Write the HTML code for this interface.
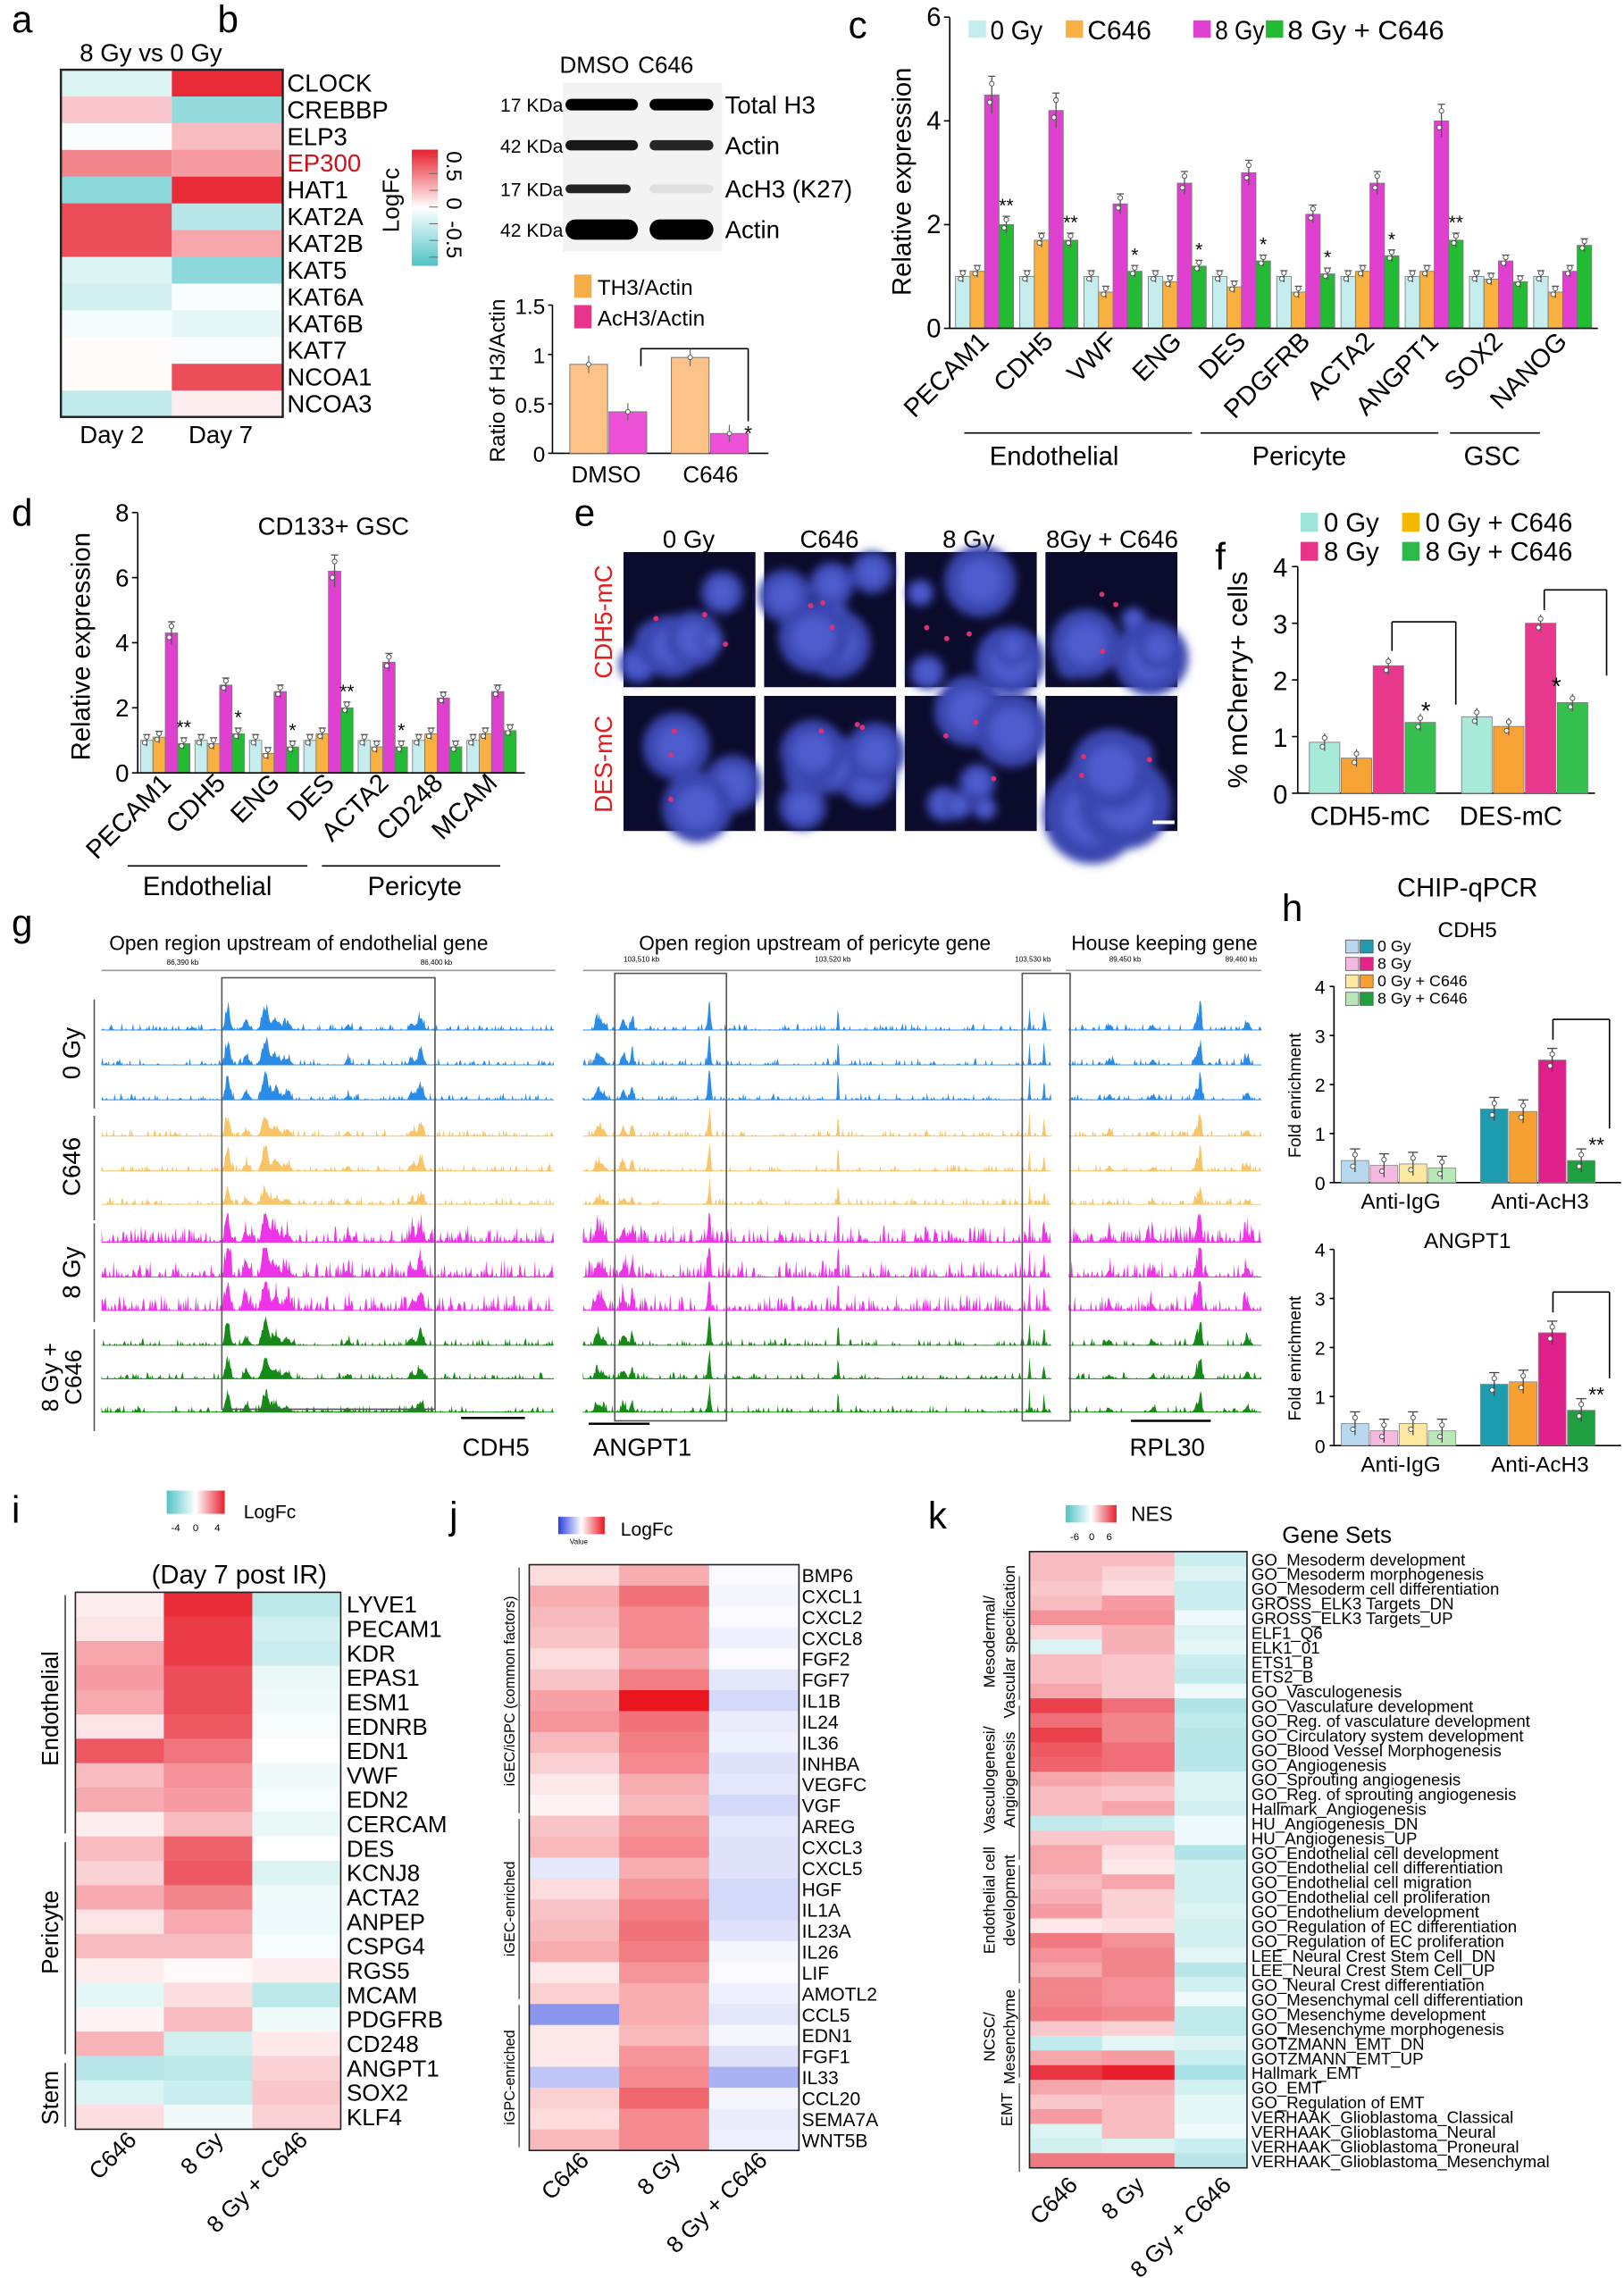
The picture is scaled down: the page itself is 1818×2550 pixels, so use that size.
<!DOCTYPE html>
<html><head><meta charset="utf-8">
<style>
html,body{margin:0;padding:0;background:#fff;}
svg{display:block;font-family:"Liberation Sans Narrow","Liberation Sans",Arial,sans-serif;}
</style></head>
<body>
<svg id="s" width="1818" height="2550" viewBox="0 0 1120 1568" preserveAspectRatio="none" xmlns="http://www.w3.org/2000/svg">
<defs><filter id="bl" x="-50%" y="-50%" width="200%" height="200%"><feGaussianBlur stdDeviation="3"/></filter>
<linearGradient id="gTR" x1="0" y1="1" x2="0" y2="0"><stop offset="0" stop-color="#4fc3c8"/><stop offset=".5" stop-color="#fff"/><stop offset="1" stop-color="#e8202e"/></linearGradient>
<linearGradient id="hTR" x1="0" y1="0" x2="1" y2="0"><stop offset="0" stop-color="#4fc3c8"/><stop offset=".5" stop-color="#fff"/><stop offset="1" stop-color="#e8202e"/></linearGradient>
<linearGradient id="hBR" x1="0" y1="0" x2="1" y2="0"><stop offset="0" stop-color="#2a3ee0"/><stop offset=".5" stop-color="#fff"/><stop offset="1" stop-color="#e8141e"/></linearGradient>
</defs>
</svg>
<script>
(function(){
let o='';
function T(x,y,s,fs,p){p=p||{};o+=`<text x="${x}" y="${y}" font-size="${fs}"${p.a?` text-anchor="${p.a}"`:''}${p.l?` textLength="${p.l}" lengthAdjust="spacingAndGlyphs"`:''}${p.r!=null?` transform="rotate(${p.r} ${x} ${y})"`:''} fill="${p.c||'#000'}"${p.w?' font-weight="bold"':''}>${s}</text>`;}
function R(x,y,w,h,f,st,sw,rx){o+=`<rect x="${x}" y="${y}" width="${w}" height="${h}"${rx?` rx="${rx}"`:''} fill="${f}"${st?` stroke="${st}" stroke-width="${sw||1}"`:''}/>`;}
function L(x1,y1,x2,y2,c,w){o+=`<line x1="${x1}" y1="${y1}" x2="${x2}" y2="${y2}" stroke="${c||'#000'}" stroke-width="${w||1}"/>`;}
function C(x,y,r,f,st){o+=`<circle cx="${x}" cy="${y}" r="${r}" fill="${f}"${st?` stroke="${st}" stroke-width=".6"`:''}/>`;}
function mix(a,b,t){const pa=[parseInt(a.substr(1,2),16),parseInt(a.substr(3,2),16),parseInt(a.substr(5,2),16)],pb=[parseInt(b.substr(1,2),16),parseInt(b.substr(3,2),16),parseInt(b.substr(5,2),16)];return 'rgb('+pa.map((v,i)=>Math.round(v+(pb[i]-v)*t)).join(',')+')';}
function TR(v){v=Math.max(-1,Math.min(1,v));return v<0?mix('#ffffff','#4fc3c8',-v):mix('#ffffff','#e8202e',v);}
function BR(v){v=Math.max(-1,Math.min(1,v));return v<0?mix('#ffffff','#2a3ee0',-v):mix('#ffffff','#e8141e',v);}
let seed=7;function rnd(){seed=(seed*16807)%2147483647;return seed/2147483647;}

// ========== a ==========
T(8,22,'a',26);
T(55,42,'8 Gy vs 0 Gy',17);
const aG=['CLOCK','CREBBP','ELP3','EP300','HAT1','KAT2A','KAT2B','KAT5','KAT6A','KAT6B','KAT7','NCOA1','NCOA3'];
const aV=[[-.2,.95],[.25,-.6],[-.03,.3],[.55,.45],[-.65,.95],[.8,-.4],[.8,.4],[-.2,-.65],[-.25,-.03],[-.06,-.15],[.02,-.03],[.02,.8],[-.35,.08]];
aV.forEach((r,i)=>{R(42,48+i*18.4,76.5,18.6,TR(r[0]));R(118.5,48+i*18.4,76.5,18.6,TR(r[1]));T(198,48+i*18.4+15,aG[i],17,{c:i==3?'#d0101c':'#000'});});
R(42,48,153,239,'none','#222',1.5);
T(55,305,'Day 2',17);T(130,305,'Day 7',17);
R(284,103,18,80,'url(#gTR)');
[0,1,2,3,4,5,6].forEach(i=>L(296,108+i*11.5,302,108+i*11.5,'#666',.6));
T(308,104,'0.5',15,{r:90});T(308,136,'0',15,{r:90});T(308,152,'-0.5',15,{r:90});
T(275,160,'LogFc',16,{r:-90});

// ========== b ==========
T(150,22,'b',26);
T(386,50,'DMSO',16);T(440,50,'C646',16);
[[72,1,1,'Total H3','17 KDa',4],[100,.9,.85,'Actin','42 KDa',3.5],[130,.85,.08,'AcH3 (K27)','17 KDa',3],[158,1,1,'Actin','42 KDa',7]].forEach((r,i)=>{
 R(388,r[0]-15,110,30,'#f3f3f3');
 R(390,r[0]-r[5],i==2?45:50,2*r[5],'#000',null,null,r[5]);o=o.replace(/fill="#000"\/>$/,`fill="#000" opacity="${r[1]}"/>`);
 R(448,r[0]-r[5],44,2*r[5],'#000',null,null,r[5]);o=o.replace(/fill="#000"\/>$/,`fill="#000" opacity="${r[2]}"/>`);
 T(500,r[0]+6,r[3],17);T(345,r[0]+5,r[4],13);
});
R(396,189,12,16,'#f8ae48');T(412,203,'TH3/Actin',15);
R(396,210,12,16,'#e8348a');T(412,224,'AcH3/Actin',15);
(function(){const x0=381,z=312,pp=68;L(x0,210,x0,z);L(x0,z,530,z);
[[0,'0'],[.5,'0.5'],[1,'1'],[1.5,'1.5']].forEach(t=>{L(x0-3,z-t[0]*pp,x0,z-t[0]*pp);T(x0-5,z-t[0]*pp+6,t[1],15,{a:'end'});});
T(348,262,'Ratio of H3/Actin',15,{r:-90,a:'middle'});
[[393,.9,'#fdc288'],[420,.42,'#ee50d8'],[463,.97,'#fdc288'],[490,.2,'#ee50d8']].forEach(b=>{R(b[0],z-b[1]*pp,26,b[1]*pp,b[2],'#777',.6);L(b[0]+13,z-b[1]*pp-6,b[0]+13,z-b[1]*pp+6,'#666',.7);C(b[0]+13,z-b[1]*pp,1.5,'#fff','#555');});
L(442,240,442,252);L(442,240,516,240);L(516,240,516,290);T(516,303,'*',14,{a:'middle'});
T(418,332,'DMSO',16,{a:'middle'});T(490,332,'C646',16,{a:'middle'});})();

function bars(x0,z,pp,yTop,ticks,gx0,gs,bw,vals,cols,stars,tfs){
 L(x0,yTop,x0,z);
 ticks.forEach(t=>{L(x0-4,z-t*pp,x0,z-t*pp);T(x0-6,z-t*pp+6,t,tfs||17,{a:'end'});});
 vals.forEach((g,gi)=>g.forEach((v,i)=>{const x=gx0+gi*gs+i*bw,h=v*pp,e=Math.max(4,v*pp*0.08);
  R(x,z-h,bw,h,cols[i],'#777',.5);L(x+bw/2,z-h-e,x+bw/2,z-h+e,'#555',.8);L(x+bw/2-2.5,z-h-e,x+bw/2+2.5,z-h-e,'#555',.8);
  C(x+bw/2,z-h-e*0.6,1.6,'#fff','#555');C(x+bw/2-1.5,z-h+e*0.4,1.6,'#fff','#555');
  if(stars&&stars[gi]&&i==3)T(x+bw/2,z-h-e-3,stars[gi],13,{a:'middle'});
 }));
}

// ========== c ==========
T(585,26,'c',26);
[[668,'#c5ecee','0 Gy',36],[735,'#f8b040','C646',44],[823,'#e040d0','8 Gy',34],[873,'#22bb33','8 Gy + C646',108]].forEach(l=>{R(l[0],14,12,12,l[1]);T(l[0]+15,27,l[2],18,{l:l[3]});});
{const vals=[[1,1.1,4.5,2.0],[1,1.7,4.2,1.7],[1,.7,2.4,1.1],[1,.9,2.8,1.2],[1,.8,3.0,1.3],[1,.7,2.2,1.05],[1,1.1,2.8,1.4],[1,1.1,4.0,1.7],[1,.95,1.3,.9],[1,.7,1.1,1.6]];
const st=['**','**','*','*','*','*','*','**','',''];
bars(655,226,35.7,12,[0,2,4,6],659,44.3,10,vals,['#c5ecee','#f8b040','#e040d0','#22bb33'],st,18);
L(655,226,1102,226);
T(628,125,'Relative expression',18,{r:-90,a:'middle'});
['PECAM1','CDH5','VWF','ENG','DES','PDGFRB','ACTA2','ANGPT1','SOX2','NANOG'].forEach((g,i)=>T(659+i*44.3+24,236,g,18,{r:-45,a:'end'}));
L(665,298,822,298);L(828,298,992,298);L(1000,298,1062,298);
T(727,320,'Endothelial',18,{a:'middle'});T(896,320,'Pericyte',18,{a:'middle'});T(1029,320,'GSC',18,{a:'middle'});}

// ========== d ==========
T(8,362,'d',26);
T(230,368,'CD133+ GSC',17,{a:'middle'});
{const vals=[[1,1.1,4.3,.9],[1,.9,2.7,1.2],[1,.6,2.5,.8],[1,1.2,6.2,2.0],[1,.8,3.4,.8],[1,1.2,2.3,.8],[1,1.2,2.5,1.3]];
bars(95,532,22.4,353,[0,2,4,6,8],97,37.5,8.5,vals,['#c5ecee','#f8b040','#e040d0','#22bb33'],['**','*','*','**','*','',''],17);
L(95,532,362,532);
T(62,445,'Relative expression',18,{r:-90,a:'middle'});
['PECAM1','CDH5','ENG','DES','ACTA2','CD248','MCAM'].forEach((g,i)=>T(97+i*37.5+22,540,g,18,{r:-45,a:'end'}));
L(88,596,212,596);L(222,596,345,596);T(143,616,'Endothelial',18,{a:'middle'});T(286,616,'Pericyte',18,{a:'middle'});}

// ========== e ==========
T(396,362,'e',26);
[['0 Gy',475],['C646',572],['8 Gy',668],['8Gy + C646',767]].forEach(h=>T(h[1],377,h[0],17,{a:'middle'}));
T(422,428,'CDH5-mC',17,{r:-90,a:'middle',c:'#e02020'});T(422,526,'DES-mC',17,{r:-90,a:'middle',c:'#e02020'});
[430,527,624,721].forEach((x,ci)=>[380,479].forEach((y,ri)=>{
 R(x,y,91,93,'#0b0b2c');
 o+=`<g filter="url(#bl)">`;
 const n=ci==0&&ri==1?3:6;
 for(let k=0;k<n;k++){const cx=x+10+rnd()*71,cy=y+10+rnd()*73,r=8+rnd()*(ci==3&&ri==1?26:18);C(cx.toFixed(1),cy.toFixed(1),r.toFixed(1),'#3a46b0');C(cx.toFixed(1),cy.toFixed(1),(r*.6).toFixed(1),'#4d5ccc');}
 o+='</g>';
 for(let k=0;k<3;k++)C((x+15+rnd()*60).toFixed(1),(y+15+rnd()*60).toFixed(1),1.8,'#e03070');
}));
L(795,566,810,566,'#fff',2.5);

// ========== f ==========
T(838,392,'f',26);
[[897,366,'#9ee4d8','0 Gy'],[967,366,'#f5b800','0 Gy + C646'],[897,386,'#e8338a','8 Gy'],[967,386,'#2db84a','8 Gy + C646']].forEach(l=>{R(l[0],l[1]-13,12,13,l[2]);T(l[0]+16,l[1],l[3],18);});
{const z=546,pp=39;L(895,390,895,z);L(895,z,1100,z);
[0,1,2,3,4].forEach(t=>{L(891,z-t*pp,895,z-t*pp);T(888,z-t*pp+7,t,18,{a:'end'});});
T(860,468,'% mCherry+ cells',19,{r:-90,a:'middle'});
const cs=['#a8ead8','#f7a235','#e8388e','#36c050'];
[[.9,.62,2.25,1.25],[1.35,1.18,3.0,1.6]].forEach((g,gi)=>g.forEach((v,i)=>{const x=903+gi*105+i*22,h=v*pp;R(x,z-h,21,h,cs[i],'#777',.5);L(x+10.5,z-h-6,x+10.5,z-h+6,'#555',.8);C(x+10.5,z-h-3,1.6,'#fff','#555');C(x+9,z-h+3,1.6,'#fff','#555');}));
L(960,428,1004,428);L(1004,428,1004,485);L(960,428,960,448);T(980,495,'*',17,{a:'start'});
L(1065,406,1108,406);L(1108,406,1108,465);L(1065,406,1065,420);T(1070,478,'*',17);
T(945,568,'CDH5-mC',18,{a:'middle'});T(1042,568,'DES-mC',18,{a:'middle'});}

// ========== g ==========
T(8,644,'g',26);
T(206,654,'Open region upstream of endothelial gene',14,{a:'middle'});
T(562,654,'Open region upstream of pericyte gene',14,{a:'middle'});
T(803,654,'House keeping gene',14,{a:'middle'});
L(70,668,383,668,'#999',1);L(402,668,725,668,'#999',1);L(735,668,870,668,'#999',1);
T(115,664,'86,390 kb',5);T(290,664,'86,400 kb',5);T(430,662,'103,510 kb',5);T(562,662,'103,520 kb',5);T(700,662,'103,530 kb',5);T(765,662,'89,450 kb',5);T(845,662,'89,460 kb',5);
const tcols=['#2b8ce8','#f8c468','#ee34e8','#168a16'];
const sections=[[70,382,[[157,1.5,.95],[170,1.8,.35],[183,2,1.0],[190,2.5,.45],[198,2,.3],[240,1.5,.2],[290,1.8,.6],[284,1.5,.3]]],[402,725,[[412,1.5,.45],[416,1.5,.3],[430,1.5,.4],[436,1,.55],[489,1,.75],[489.5,.4,1.3],[578,.4,1.2],[710,.4,1.0],[720,.5,.9]]],[737,870,[[765,1.5,.2],[795,1.5,.2],[826,1.5,.5],[828,.7,1.0],[860,1.5,.3]]]];
const amp=[[1,1,1],[.8,.9,.6],[1.1,1.2,1.2],[1,.8,.8]];
const bases=[709,733,757,782,806,829,855,879,902,926,949,972];
for(let t=0;t<12;t++){const grp=Math.floor(t/3),y=bases[t],c=tcols[grp];
 sections.forEach(sec=>{let d=`M${sec[0]} ${y}`;
  for(let x=sec[0];x<=sec[1];x+=0.7){let h=0;sec[2].forEach(p=>{const dx=(x-p[0])/p[1];h+=p[2]*Math.exp(-dx*dx/2);});
   const noise=rnd();let a=h*18*amp[grp][t%3]*(0.7+0.5*noise);
   a+= (grp==2? Math.pow(rnd(),4)*12 : Math.pow(rnd(),6)*5);
   if(a>20)a=20; d+=` L${x.toFixed(1)} ${(y-a).toFixed(1)}`;}
  d+=` L${sec[1]} ${y} Z`;o+=`<path d="${d}" fill="${c}"/>`;
  L(sec[0],y,sec[1],y,c,.6);
 });
}
[[59,688,763],[59,768,840],[59,842,910],[59,915,985]].forEach(b=>L(b[0]+6,b[1],b[0]+6,b[2],'#555',1));
T(55,725,'0 Gy',17,{r:-90,a:'middle'});T(55,803,'C646',17,{r:-90,a:'middle'});T(55,876,'8 Gy',17,{r:-90,a:'middle'});
T(40,948,'8 Gy +',16,{r:-90,a:'middle'});T(56,948,'C646',16,{r:-90,a:'middle'});
R(153,673,147,297,'none','#555',1);R(424,670,77,308,'none','#555',1);R(705,670,33,308,'none','#555',1);
L(318,976,362,976,'#000',1.5);L(406,980,448,980,'#000',1.5);L(780,978,835,978,'#000',1.5);
T(342,1002,'CDH5',17,{a:'middle'});T(443,1002,'ANGPT1',17,{a:'middle'});T(805,1002,'RPL30',17,{a:'middle'});

// ========== h ==========
T(884,634,'h',26);
T(1012,617,'CHIP-qPCR',18,{a:'middle'});
function hchart(z,top,vals,title,legend){
 T(1012,top-14,title,15,{a:'middle'});
 const pp=33.75;L(920,z-4*pp,920,z);L(920,z,1118,z);
 [0,1,2,3,4].forEach(t=>{L(917,z-t*pp,920,z-t*pp);T(914,z-t*pp+5,t,13,{a:'end'});});
 T(897,z-60,'Fold enrichment',12,{r:-90,a:'middle'});
 const lc=['#b8d8f0','#f5b8e0','#fde8a0','#b8e8b8'],dc=['#1f9bb0','#e8208a','#f5a030','#1fa040'];
 const cs=[lc,['#1f9bb0','#f5a030','#e0208a','#1fa040']];
 vals.forEach((g,gi)=>g.forEach((v,i)=>{const x=925+gi*96+i*20,h=v*pp;R(x,z-h,19,h,cs[gi][i],'#888',.5);L(x+9.5,z-h-8,x+9.5,z-h+8,'#444',.8);L(x+6,z-h-8,x+13,z-h-8,'#444',.8);C(x+9.5,z-h-4,1.6,'#fff','#555');C(x+8,z-h+4,1.6,'#fff','#555');}));
 T(966,z+18,'Anti-IgG',15,{a:'middle'});T(1062,z+18,'Anti-AcH3',15,{a:'middle'});
 const x3=1071;L(x3,z-vals[1][2]*pp-28,1110,z-vals[1][2]*pp-28);L(1110,z-vals[1][2]*pp-28,1110,z-vals[1][3]*pp-22);L(x3,z-vals[1][2]*pp-28,x3,z-vals[1][2]*pp-14);
 T(1101,z-vals[1][3]*pp-6,'**',14,{a:'middle'});
 if(legend){['0 Gy','8 Gy','0 Gy + C646','8 Gy + C646'].forEach((s,i)=>{R(928,647+i*12,9,9,lc[i],'#555',.5);R(938,647+i*12,9,9,dc[i],'#555',.5);T(950,655+i*12,s,11);});}
}
hchart(814,659,[[.45,.35,.38,.3],[1.5,1.45,2.5,.45]],'CDH5',true);
hchart(995,873,[[.45,.3,.45,.3],[1.25,1.3,2.3,.72]],'ANGPT1',false);

// ========== i ==========
T(8,1048,'i',26);
R(115,1026,40,16,'url(#hTR)');T(118,1054,'-4',7);T(133,1054,'0',7);T(148,1054,'4',7);
T(168,1045,'LogFc',13);
T(165,1090,'(Day 7 post IR)',18,{a:'middle'});
const iG=['LYVE1','PECAM1','KDR','EPAS1','ESM1','EDNRB','EDN1','VWF','EDN2','CERCAM','DES','KCNJ8','ACTA2','ANPEP','CSPG4','RGS5','MCAM','PDGFRB','CD248','ANGPT1','SOX2','KLF4'];
const iV=[[.08,.95,-.38],[.12,.88,-.25],[.4,.88,-.3],[.45,.8,-.12],[.38,.8,-.08],[.12,.75,-.05],[.75,.62,0],[.3,.5,-.08],[.38,.45,-.05],[.08,.3,-.12],[.3,.7,0],[.2,.75,-.2],[.38,.55,-.08],[.12,.38,-.1],[.3,.3,-.05],[.08,.03,.08],[-.15,.15,-.38],[.05,.3,-.08],[.33,-.25,.1],[-.4,-.38,.2],[-.2,-.3,.25],[.15,-.08,.2]];
const irh=16.8;
iV.forEach((r,i)=>{r.forEach((v,j)=>R(52+j*61,1096+i*irh,61.2,irh+.2,TR(v)));T(239,1096+i*irh+14,iG[i],16);});
R(52,1096,183,22*irh,'none','#222',1);
L(45,1098,45,1262,'#444',1);L(45,1268,45,1414,'#444',1);L(45,1420,45,1464,'#444',1);
T(40,1176,'Endothelial',16,{r:-90,a:'middle'});T(40,1330,'Pericyte',16,{r:-90,a:'middle'});T(40,1444,'Stem',16,{r:-90,a:'middle'});
T(95,1474,'C646',16,{r:-45,a:'end'});T(155,1474,'8 Gy',16,{r:-45,a:'end'});T(213,1474,'8 Gy + C646',16,{r:-45,a:'end'});

// ========== j ==========
T(310,1052,'j',26);
R(385,1044,32,12,'url(#hBR)');T(393,1063,'Value',5);T(428,1057,'LogFc',13);
const jG=['BMP6','CXCL1','CXCL2','CXCL8','FGF2','FGF7','IL1B','IL24','IL36','INHBA','VEGFC','VGF','AREG','CXCL3','CXCL5','HGF','IL1A','IL23A','IL26','LIF','AMOTL2','CCL5','EDN1','FGF1','IL33','CCL20','SEMA7A','WNT5B'];
const jV=[[.15,.35,-.03],[.35,.6,-.05],[.3,.5,-.03],[.25,.5,-.08],[.15,.4,-.03],[.25,.55,-.12],[.4,1,-.2],[.45,.6,-.1],[.3,.55,-.08],[.2,.5,-.15],[.1,.35,-.12],[.05,.3,-.2],[.25,.45,-.12],[.3,.5,-.15],[-.12,.35,-.15],[.15,.45,-.2],[.25,.55,-.2],[.3,.6,-.15],[.35,.55,-.05],[.1,.45,-.03],[.2,.35,-.08],[-.55,.35,-.12],[.1,.3,-.05],[.1,.45,-.15],[-.3,.5,-.4],[.2,.65,-.05],[.15,.5,-.1],[.3,.5,-.08]];
const jrh=14.4;
jV.forEach((r,i)=>{r.forEach((v,j)=>R(365+j*62,1077+i*jrh,62.2,jrh+.2,BR(v)));T(553,1077+i*jrh+12,jG[i],13);});
R(365,1077,186,28*jrh,'none','#222',1);
L(358,1079,358,1248,'#444',.8);L(358,1252,358,1376,'#444',.8);L(358,1380,358,1478,'#444',.8);
T(355,1164,'iGEC/iGPC (common factors)',10,{r:-90,a:'middle'});T(355,1314,'iGEC-enriched',10,{r:-90,a:'middle'});T(355,1430,'iGPC-enriched',10,{r:-90,a:'middle'});
T(407,1488,'C646',16,{r:-45,a:'end'});T(470,1488,'8 Gy',16,{r:-45,a:'end'});T(530,1488,'8 Gy + C646',16,{r:-45,a:'end'});

// ========== k ==========
T(640,1052,'k',26);
R(735,1036,35,12,'url(#hTR)');T(738,1060,'-6',7);T(751,1060,'0',7);T(763,1060,'6',7);
T(780,1047,'NES',14);
T(922,1062,'Gene Sets',16,{a:'middle'});
const kG=['GO_Mesoderm development','GO_Mesoderm morphogenesis','GO_Mesoderm cell differentiation','GROSS_ELK3 Targets_DN','GROSS_ELK3 Targets_UP','ELF1_Q6','ELK1_01','ETS1_B','ETS2_B','GO_Vasculogenesis','GO_Vasculature development','GO_Reg. of vasculature development','GO_Circulatory system development','GO_Blood Vessel Morphogenesis','GO_Angiogenesis','GO_Sprouting angiogenesis','GO_Reg. of sprouting angiogenesis','Hallmark_Angiogenesis','HU_Angiogenesis_DN','HU_Angiogenesis_UP','GO_Endothelial cell development','GO_Endothelial cell differentiation','GO_Endothelial cell migration','GO_Endothelial cell proliferation','GO_Endothelium development','GO_Regulation of EC differentiation','GO_Regulation of EC proliferation','LEE_Neural Crest Stem Cell_DN','LEE_Neural Crest Stem Cell_UP','GO_Neural Crest differentiation','GO_Mesenchymal cell differentiation','GO_Mesenchyme development','GO_Mesenchyme morphogenesis','GOTZMANN_EMT_DN','GOTZMANN_EMT_UP','Hallmark_EMT','GO_EMT','GO_Regulation of EMT','VERHAAK_Glioblastoma_Classical','VERHAAK_Glioblastoma_Neural','VERHAAK_Glioblastoma_Proneural','VERHAAK_Glioblastoma_Mesenchymal'];
const kV=[[.3,.3,-.3],[.3,.2,-.2],[.25,.15,-.3],[.3,.45,-.3],[.5,.5,-.1],[.2,.35,-.2],[-.2,.35,-.15],[.3,.25,-.3],[.3,.25,-.35],[.4,.25,-.1],[.85,.65,-.45],[.65,.55,-.35],[.85,.55,-.4],[.75,.65,-.4],[.7,.65,-.4],[.4,.35,-.2],[.3,.25,-.2],[.3,.4,-.25],[-.35,-.3,-.1],[.25,.25,-.1],[.4,.15,-.45],[.4,.1,-.25],[.3,.4,-.25],[.35,.2,-.25],[.45,.2,-.2],[.1,.15,-.25],[.6,.5,-.25],[.5,.55,-.15],[.4,.55,-.4],[.55,.5,-.25],[.55,.5,-.1],[.6,.55,-.35],[.25,.2,-.35],[-.35,-.15,-.2],[.4,.45,-.3],[.9,1,-.5],[.4,.35,-.25],[.25,.3,-.15],[.45,.3,-.15],[-.2,.3,-.1],[-.25,-.2,-.3],[.6,.6,-.4]];
const krh=10.1;
kV.forEach((r,i)=>{r.forEach((v,j)=>R(710+j*50,1068+i*krh,50.2,krh+.2,TR(v)));T(863,1068+i*krh+9.5,kG[i],11.5);});
R(710,1068,150,42*krh,'none','#222',1);
L(703,1085,703,1170,'#444',.8);L(703,1174,703,1280,'#444',.8);L(703,1284,703,1365,'#444',.8);L(703,1369,703,1430,'#444',.8);L(703,1434,703,1495,'#444',.8);
T(686,1130,'Mesodermal/',11,{r:-90,a:'middle'});T(700,1130,'Vascular specification',11,{r:-90,a:'middle'});
T(686,1225,'Vasculogenesi/',11,{r:-90,a:'middle'});T(700,1225,'Angiogenesis',11,{r:-90,a:'middle'});
T(686,1308,'Endothelial cell',11,{r:-90,a:'middle'});T(700,1308,'development',11,{r:-90,a:'middle'});
T(686,1402,'NCSC/',11,{r:-90,a:'middle'});T(700,1402,'Mesenchyme',11,{r:-90,a:'middle'});
T(698,1452,'EMT',11,{r:-90,a:'middle'});
T(744,1505,'C646',16,{r:-45,a:'end'});T(790,1505,'8 Gy',16,{r:-45,a:'end'});T(850,1505,'8 Gy + C646',16,{r:-45,a:'end'});

document.getElementById('s').insertAdjacentHTML('beforeend',o);
})();
</script>
</body></html>
